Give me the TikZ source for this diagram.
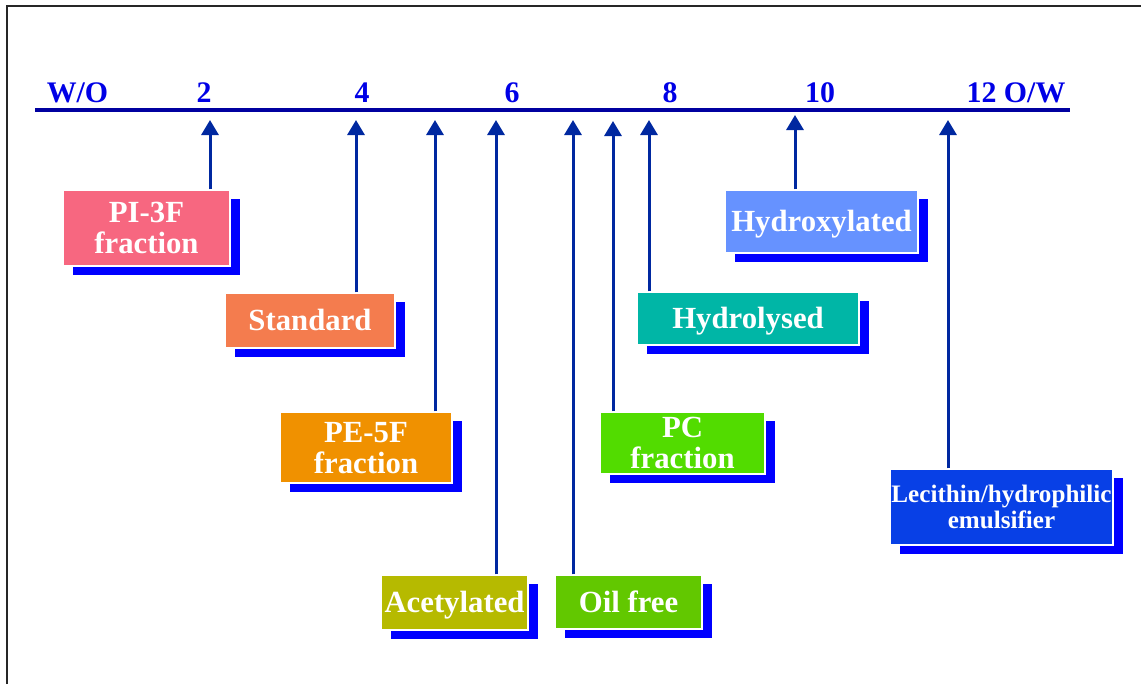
\documentclass[tikz,border=0pt]{standalone}
\usepackage{fontspec}
\setmainfont{Liberation Serif}
\usetikzlibrary{arrows.meta,shadows}
\definecolor{axisblue}{RGB}{0,0,160}
\definecolor{numblue}{RGB}{0,0,230}
\definecolor{arrowblue}{RGB}{0,40,160}
\definecolor{shadowblue}{RGB}{0,0,255}
\definecolor{colpi}{RGB}{247,103,128}
\definecolor{colstd}{RGB}{244,124,78}
\definecolor{colpe}{RGB}{240,145,0}
\definecolor{colacet}{RGB}{182,186,0}
\definecolor{coloil}{RGB}{98,200,0}
\definecolor{colpc}{RGB}{82,220,0}
\definecolor{colhydrol}{RGB}{0,182,166}
\definecolor{colhydrox}{RGB}{102,146,255}
\definecolor{collec}{RGB}{8,64,230}
\newcommand{\twolines}[3][2.3pt]{\raisebox{-#1}[\height][\depth]{\begin{tabular}{@{}c@{}}#2\\#3\end{tabular}}}
\begin{document}
\begin{tikzpicture}[x=0.02cm,y=-0.02cm,
    num/.style={text=numblue,font=\fontsize{17}{17}\selectfont\bfseries,anchor=base,inner sep=0pt},
    box/.style={draw=white,line width=0.6pt,text=white,inner sep=0pt,
      font=\fontsize{17.5}{17.6}\selectfont\bfseries,
      drop shadow={shadow xshift=0.2cm,shadow yshift=-0.18cm,fill=shadowblue,opacity=1}},
    one/.style={text height=11.6pt,text depth=0pt},
    arr/.style={-{Triangle[width=0.34cm,length=0.3cm]},arrowblue,line width=0.06cm}]
    \useasboundingbox (0,0) rectangle (1141,684);
    \draw[line width=1.2pt,black!85] (7,684) -- (7,6) -- (1141,6);
    % axis
    \coordinate (wo) at (35,110);
    \coordinate (ow) at (1070,110);
    \draw[axisblue,line width=0.08cm] (wo) -- (ow);
    \node[num] (lwo) at (77.5,102) {W/O};
    \node[num] (l2) at (204,102) {2};
    \node[num] (l4) at (362,102) {4};
    \node[num] (l6) at (512,102) {6};
    \node[num] (l8) at (670,102) {8};
    \node[num] (l10) at (820,102) {10};
    \node[num] (l12) at (1016,102) {12 O/W};
    % arrow targets
    \coordinate (tpi) at (210,120);
    \coordinate (tstd) at (356,120);
    \coordinate (tpe) at (435,120);
    \coordinate (tacet) at (496,120);
    \coordinate (toil) at (573,120);
    \coordinate (tpc) at (613,121);
    \coordinate (thydrol) at (649,120);
    \coordinate (thydrox) at (795,115);
    \coordinate (tlec) at (948,120);
    % boxes
    \node[box,fill=colpi,minimum width=3.34cm,minimum height=1.52cm] (pi3f) at (146.5,228) {\twolines{PI-3F}{fraction}};
    \node[box,one,fill=colstd,minimum width=3.4cm,minimum height=1.1cm] (std) at (310,320.5) {Standard};
    \node[box,fill=colpe,minimum width=3.44cm,minimum height=1.42cm] (pe5f) at (366,447.5) {\twolines{PE-5F}{fraction}};
    \node[box,one,fill=colacet,minimum width=2.94cm,minimum height=1.1cm] (acet) at (454.5,602.5) {Acetylated};
    \node[box,one,fill=coloil,minimum width=2.94cm,minimum height=1.08cm] (oil) at (628.5,602) {Oil free};
    \node[box,fill=colpc,minimum width=3.3cm,minimum height=1.24cm] (pc) at (682.5,443) {\twolines{PC}{fraction}};
    \node[box,one,fill=colhydrol,minimum width=4.44cm,minimum height=1.06cm] (hydrol) at (748,318.5) {Hydrolysed};
    \node[box,one,fill=colhydrox,minimum width=3.86cm,minimum height=1.26cm] (hydrox) at (821.5,221.5) {Hydroxylated};
    \node[box,fill=collec,minimum width=4.46cm,minimum height=1.52cm,font=\fontsize{14.3}{14.8}\selectfont\bfseries] (lec) at (1001.5,507) {\twolines[1.9pt]{Lecithin/hydrophilic}{emulsifier}};
    % arrows
    \draw[arr] (pi3f.north -| tpi) -- (tpi);
    \draw[arr] (std.north -| tstd) -- (tstd);
    \draw[arr] (pe5f.north -| tpe) -- (tpe);
    \draw[arr] (acet.north -| tacet) -- (tacet);
    \draw[arr] (oil.north -| toil) -- (toil);
    \draw[arr] (pc.north -| tpc) -- (tpc);
    \draw[arr] (hydrol.north -| thydrol) -- (thydrol);
    \draw[arr] (hydrox.north -| thydrox) -- (thydrox);
    \draw[arr] (lec.north -| tlec) -- (tlec);
  \end{tikzpicture}
\end{document}
